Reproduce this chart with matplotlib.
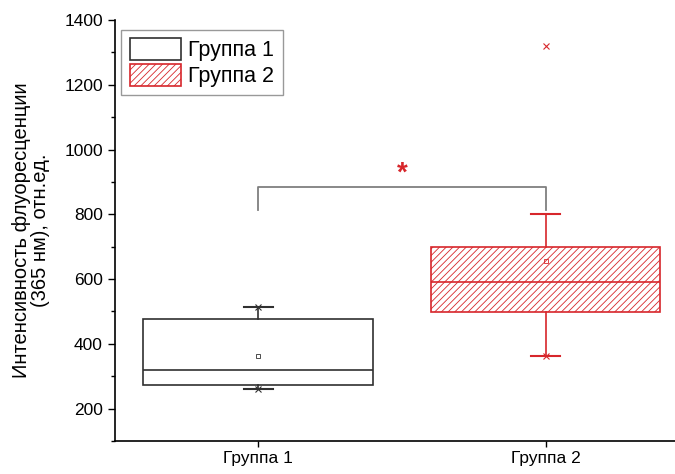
import matplotlib
matplotlib.use("Agg")
import matplotlib.pyplot as plt
from matplotlib.patches import Patch
from matplotlib.ticker import MultipleLocator

plt.rcParams["font.family"] = ["Liberation Sans", "DejaVu Sans"]
plt.rcParams["hatch.linewidth"] = 0.6

# данные для двух групп (статистики боксов)
groups = ["Группа 1", "Группа 2"]
whisker_low = [260, 362]
q1 = [272, 497]
median = [320, 592]
q3 = [478, 700]
whisker_high = [515, 800]
means = [362, 655]
outliers = [[], [1320]]

# точки минимума/максимума на концах усов
end_points = [[260, 515], [362]]

# значимость
bracket_y = 885
bracket_leg = 815
star_y = 925

red = "#d7262b"
colors = ["#303030", red]

fig = plt.figure(figsize=(6.75, 4.74), dpi=100)
ax = fig.add_axes([0.170, 0.0696, 0.851, 0.888])

stats = []
for i in range(2):
    stats.append({
        "whislo": whisker_low[i], "q1": q1[i], "med": median[i],
        "q3": q3[i], "whishi": whisker_high[i], "mean": means[i],
        "fliers": outliers[i], "label": groups[i],
    })

bp = ax.bxp(stats, positions=[1, 2], widths=0.8, patch_artist=True,
            showmeans=True, showfliers=True, capwidths=0.1)

for i, c in enumerate(colors):
    box = bp["boxes"][i]
    box.set_facecolor("white")
    box.set_edgecolor(c)
    box.set_linewidth(1.2)
    bp["medians"][i].set_color(c)
    bp["medians"][i].set_linewidth(1.2)
    for w in bp["whiskers"][2 * i:2 * i + 2]:
        w.set_color(c)
        w.set_linewidth(1.2)
    for cap in bp["caps"][2 * i:2 * i + 2]:
        cap.set_color(c)
        cap.set_linewidth(1.5)
    m = bp["means"][i]
    m.set_marker("s")
    m.set_markersize(3.5)
    m.set_markerfacecolor("none")
    m.set_markeredgecolor(c)
    m.set_markeredgewidth(0.6)
    f = bp["fliers"][i]
    f.set_marker("x")
    f.set_markersize(4)
    f.set_markeredgecolor(c)
    f.set_markeredgewidth(0.8)

bp["boxes"][1].set_hatch("/////")

for i, pts in enumerate(end_points):
    ax.plot([i + 1] * len(pts), pts, linestyle="none", marker="x",
            markersize=5, markeredgewidth=0.8, color=colors[i])

# скобка значимости
ax.plot([1, 1, 2, 2], [bracket_leg, bracket_y, bracket_y, bracket_leg],
        color="#7f7f7f", linewidth=1.3)
ax.text(1.5, star_y, "*", color=red, fontsize=20, fontweight="bold",
        ha="center", va="center")

ax.set_xlim(0.5, 2.5)
ax.set_ylim(100, 1400)
ax.set_xticks([1, 2])
ax.set_xticklabels(groups, fontsize=12.5)
ax.yaxis.set_major_locator(MultipleLocator(200))
ax.yaxis.set_minor_locator(MultipleLocator(100))
ax.set_yticks([200, 400, 600, 800, 1000, 1200, 1400])
ax.tick_params(axis="y", which="major", length=5, width=1, labelsize=12.5)
ax.tick_params(axis="y", which="minor", length=3, width=1)
ax.tick_params(axis="x", length=4, width=1)

for s in ["top", "right"]:
    ax.spines[s].set_visible(False)
for s in ["left", "bottom"]:
    ax.spines[s].set_linewidth(1.2)

ax.set_ylabel("Интенсивность флуоресценции\n(365 нм), отн.ед.", fontsize=14.5,
              linespacing=1.0)
ax.yaxis.set_label_coords(-0.113, 0.5)

handles = [
    Patch(facecolor="white", edgecolor="#303030", linewidth=1.2, label=groups[0]),
    Patch(facecolor="white", edgecolor=red, hatch="/////", linewidth=1.2, label=groups[1]),
]
ax.legend(handles=handles, loc="upper left", bbox_to_anchor=(0.0, 0.993),
          fontsize=15.5, frameon=True, fancybox=False, edgecolor="#808080",
          handlelength=2.4, handleheight=1.2, borderpad=0.4, labelspacing=0.1,
          handletextpad=0.3, borderaxespad=0.3)

fig.savefig("out.png", dpi=100)
